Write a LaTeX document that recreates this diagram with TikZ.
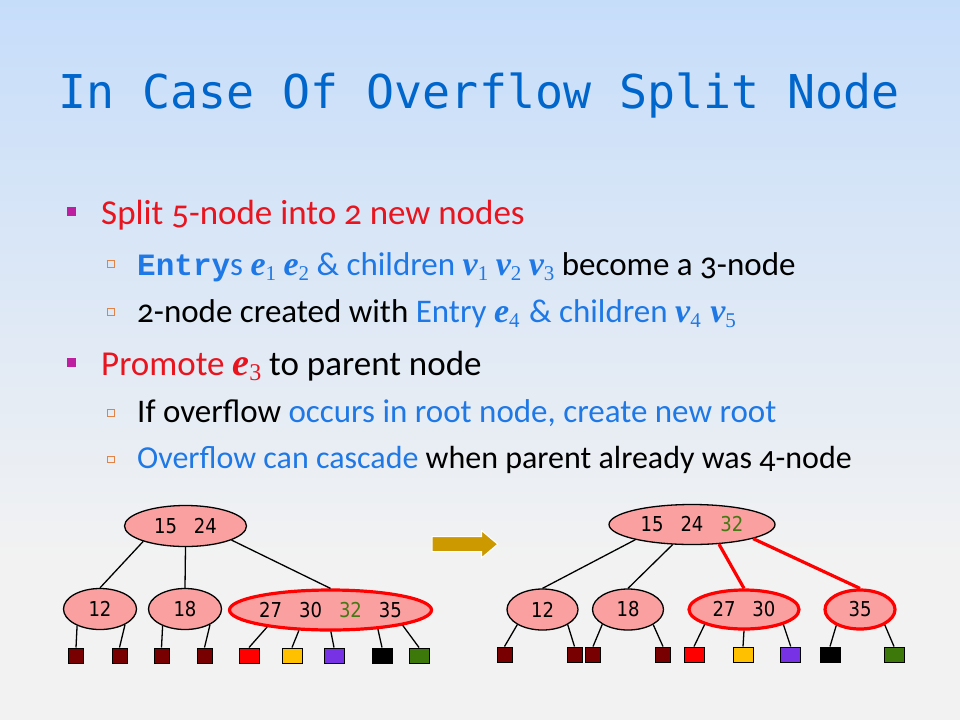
\documentclass[tikz,border=0pt]{standalone}
\usepackage{fontspec}
\setmainfont{Carlito}[Numbers=OldStyle]
\newfontfamily\monott{DejaVu Sans Mono}
\newfontfamily\courb{Liberation Mono}
\newfontfamily\tms{Liberation Serif}
\newfontfamily\nodefont{DejaVu Sans}[FakeStretch=0.88]
\usetikzlibrary{shapes.geometric}
\definecolor{bgtop}{RGB}{198,221,250}
\definecolor{bgbot}{RGB}{242,242,242}
\definecolor{ttl}{RGB}{0,102,204}
\definecolor{rtxt}{RGB}{232,20,30}
\definecolor{btxt}{RGB}{30,120,230}
\definecolor{bulA}{RGB}{190,30,160}
\definecolor{bulB}{RGB}{225,130,70}
\definecolor{npink}{RGB}{250,160,160}
\definecolor{ngreen}{RGB}{70,120,20}
\definecolor{ldred}{RGB}{120,0,0}
\definecolor{lgold}{RGB}{255,192,0}
\definecolor{lpurp}{RGB}{120,50,230}
\definecolor{lgreen}{RGB}{60,120,10}
\definecolor{arrc}{RGB}{204,153,0}
\newcommand\numgap{\hspace{17pt}}
\newcommand\ev[4][21]{{\tms\bfseries\itshape\fontsize{#2}{#2}\selectfont #3}\raisebox{-5pt}{\tms\fontsize{#1}{#1}\selectfont #4}}
\begin{document}
\begin{tikzpicture}[x=1pt,y=-1pt,
  lineA/.style={anchor=base west, inner sep=0, font=\fontsize{35}{35}\selectfont},
  lineB/.style={anchor=base west, inner sep=0, font=\fontsize{33}{33}\selectfont},
  bulletA/.style={rectangle, fill=bulA, minimum size=9pt, inner sep=0},
  bulletB/.style={rectangle, draw=bulB, line width=0.9pt, minimum size=6.5pt, inner sep=0},
  tnode/.style={ellipse, draw=black, line width=1.3pt, fill=npink, inner sep=0,
    font=\nodefont\fontsize{20.5}{20.5}\selectfont},
  hot/.style={draw=red, line width=3.2pt},
  leaf/.style={rectangle, draw=black, line width=1pt, minimum width=15pt, minimum height=15pt, inner sep=0},
  wleaf/.style={leaf, minimum width=20pt},
  edge/.style={draw=black, line width=1.3pt},
  hotedge/.style={draw=red, line width=3.2pt}]
\useasboundingbox (0,0) rectangle (960,720);
\shade[top color=bgtop, bottom color=bgbot] (0,0) rectangle (960,560);
\fill[bgbot] (0,559.5) rectangle (960,720);

% title
\node[anchor=base west, inner sep=0, text=ttl, font=\monott\fontsize{46.6}{46.6}\selectfont] (title) at (58,108) {In Case Of Overflow Split Node};

% bullets
\node[bulletA] (b1) at (71.7,211) {};
\node[bulletB] (b2) at (111,264) {};
\node[bulletB] (b3) at (111,312) {};
\node[bulletA] (b4) at (71.7,362) {};
\node[bulletB] (b5) at (111,413) {};
\node[bulletB] (b6) at (111,459.5) {};

\node[lineA] (t1) at (101,224.5) {\color{rtxt}Split 5-node into 2 new nodes};
\node[lineB] (t2) at (137,275) {{\color{btxt}{\courb\bfseries\fontsize{31}{31}\selectfont Entry}s \ev{34}{e}{1} \ev{34}{e}{2} \& children \ev{34}{v}{1} \ev{34}{v}{2} \ev{34}{v}{3}} become a 3-node};
\node[lineB] (t3) at (137,322) {2-node created with {\color{btxt}Entry \ev{34}{e}{4}\hspace{2pt} \& children \ev{34}{v}{4}\hspace{2pt} \ev{34}{v}{5}}};
\node[lineA] (t4) at (101,375) {{\color{rtxt}Promote \ev[24]{38}{e}{3}} to parent node};
\node[lineB] (t5) at (137,422) {If overflow {\color{btxt}occurs in root node, create new root}};
\node[lineB, font=\fontsize{32}{32}\selectfont] (t6) at (137,468.5) {{\color{btxt}Overflow can cascade} when parent already was 4-node};

% left tree
\node[tnode, minimum width=122pt, minimum height=41pt] (L0) at (185.5,526) {15\numgap24};
\node[tnode, minimum width=73pt, minimum height=41pt] (L1) at (100,609) {12};
\node[tnode, minimum width=73pt, minimum height=41pt] (L2) at (185,609) {18};
\node[tnode, hot, minimum width=185pt, minimum height=40pt] (L3) at (330.5,610) {27\numgap30\numgap{\color{ngreen}32}\numgap35};

\node[leaf, fill=ldred] (la) at (76,655.5) {};
\node[leaf, fill=ldred] (lb) at (119.5,655.5) {};
\node[leaf, fill=ldred] (lc) at (161.5,655.5) {};
\node[leaf, fill=ldred] (ld) at (204.5,655.5) {};
\node[wleaf, fill=red] (le) at (249,655.5) {};
\node[wleaf, fill=lgold] (lf) at (292,655.5) {};
\node[wleaf, fill=lpurp] (lg) at (334,655.5) {};
\node[wleaf, fill=black] (lh) at (382,655.5) {};
\node[wleaf, fill=lgreen] (li) at (419,655.5) {};

\draw[edge] (L0.-160.6) -- (L1.north);
\draw[edge] (L0.-90) -- (L2.north);
\draw[edge] (L0.-17.6) -- (L3.north);
\draw[edge] (L1.-144) -- (la.north);
\draw[edge] (L1.-32.6) -- (lb.north);
\draw[edge] (L2.-143.5) -- (lc.north);
\draw[edge] (L2.-32.6) -- (ld.north);
\draw[edge] (L3.-165.4) -- (le.north);
\draw[edge] (L3.-147.6) -- (lf.north);
\draw[edge] (L3.-89) -- (lg.north);
\draw[edge] (L3.-22.2) -- (lh.north);
\draw[edge] (L3.-12.7) -- (li.north);

% arrow
\filldraw[fill=arrc, draw=white, line width=1pt] (432,536.7) -- (481.7,536.7) -- (481.7,530.7) -- (497.7,544.2) -- (481.7,557.7) -- (481.7,551.7) -- (432,551.7) -- cycle;

% right tree
\node[tnode, minimum width=166pt, minimum height=40pt] (R0) at (692,524.5) {15\numgap24\numgap{\color{ngreen}32}};
\node[tnode, minimum width=71pt, minimum height=41pt] (R1) at (542.5,609.5) {12};
\node[tnode, minimum width=71pt, minimum height=41pt] (R2) at (628,609.5) {18};
\node[tnode, hot, minimum width=110pt, minimum height=39pt] (R3) at (744,609.5) {27\numgap30};
\node[tnode, hot, minimum width=70pt, minimum height=39pt] (R4) at (860,609.5) {35};

\node[leaf, fill=ldred] (ra) at (504.5,654.5) {};
\node[leaf, fill=ldred] (rb) at (574.5,654.5) {};
\node[leaf, fill=ldred] (rc) at (593,654.5) {};
\node[leaf, fill=ldred] (rd) at (663,654.5) {};
\node[wleaf, fill=red] (re) at (694,654.5) {};
\node[wleaf, fill=lgold] (rf) at (743,654.5) {};
\node[wleaf, fill=lpurp] (rg) at (790.7,654.5) {};
\node[wleaf, fill=black] (rh) at (830,654.5) {};
\node[wleaf, fill=lgreen] (ri) at (894,654.5) {};

\draw[edge] (R0.-165.7) -- (R1.north);
\draw[edge] (R0.-134.7) -- (R2.north);
\draw[hotedge] (R0.-36.2) -- (R3.north);
\draw[hotedge] (R0.-13.4) -- (R4.north);
\draw[edge] (R1.-149.7) -- (ra.north);
\draw[edge] (R1.-31.3) -- (rb.north);
\draw[edge] (R2.-150.1) -- (rc.north);
\draw[edge] (R2.-31.8) -- (rd.north);
\draw[edge] (R3.-159.3) -- (re.north);
\draw[edge] (R3.-90) -- (rf.north);
\draw[edge] (R3.-21.2) -- (rg.north);
\draw[edge] (R4.-146.1) -- (rh.north);
\draw[edge] (R4.-32.7) -- (ri.north);
\end{tikzpicture}
\end{document}
